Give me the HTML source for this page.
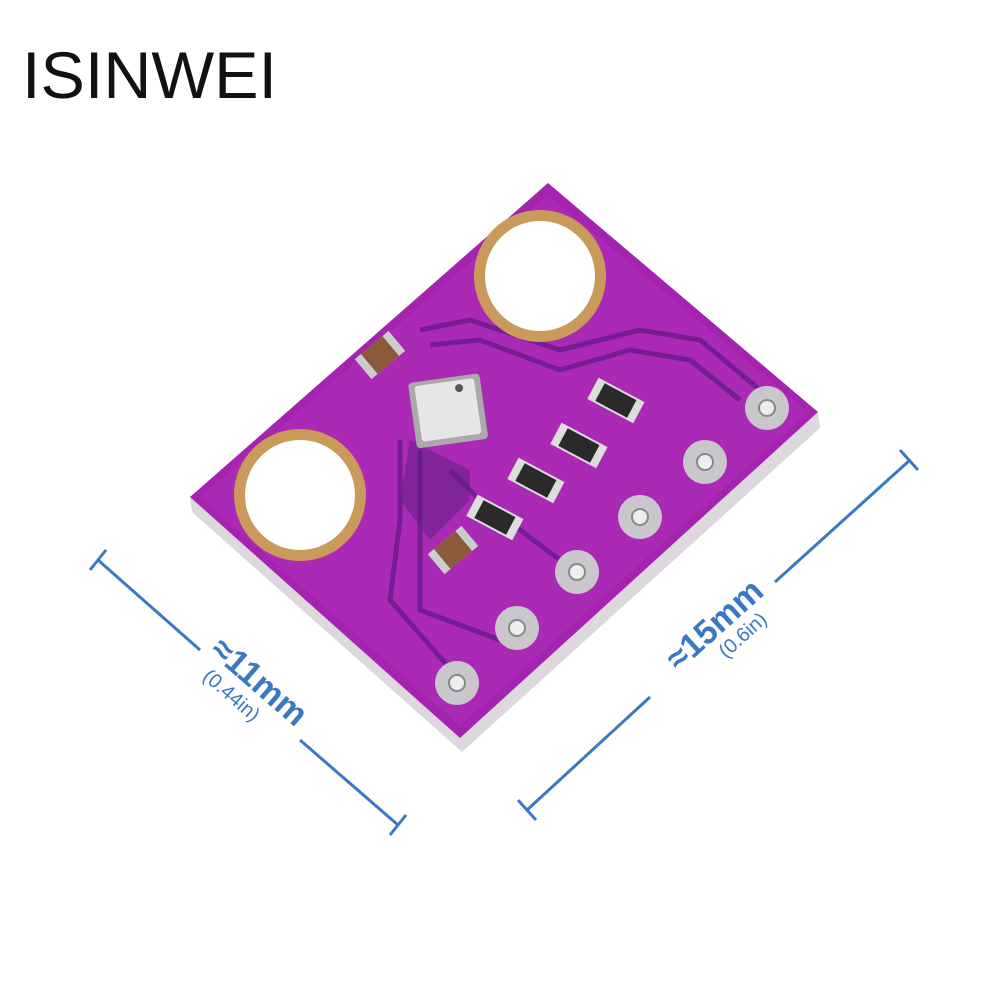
<!DOCTYPE html>
<html><head><style>
html,body{margin:0;padding:0;background:#fff;width:1000px;height:1000px;overflow:hidden}
</style></head><body>
<svg width="1000" height="1000" viewBox="0 0 1000 1000" xmlns="http://www.w3.org/2000/svg">
<rect width="1000" height="1000" fill="#fff"/>
<text x="22" y="98" font-family="Liberation Sans, sans-serif" font-size="66" fill="#111" textLength="255" lengthAdjust="spacingAndGlyphs">ISINWEI</text>
<polygon points="190,497 460,738 818,412 820,428 462,752 192,512" fill="#ddd8de"/>
<polygon points="190,497 548,183 818,412 460,738" fill="#a424b0"/>
<polygon points="200,497 548,195 808,412 460,726" fill="#b030bc" opacity="0.5"/>
<g fill="none" stroke="#6a1a8a" stroke-width="5" opacity="0.8">
<path d="M420,330 L470,320 L560,350 L640,330 L700,340 L760,390"/>
<path d="M430,345 L480,340 L560,370 L630,350 L690,360 L740,400"/>
<path d="M400,440 L400,520 L390,600 L460,680"/>
<path d="M420,450 L420,540 L420,610 L500,640"/>
<path d="M450,470 L480,500 L560,560"/>
</g>
<polygon points="410,440 470,470 470,500 430,540 400,500" fill="#5a2080" opacity="0.5"/>
<circle cx="540" cy="276" r="66" fill="#c99a5a"/>
<circle cx="540" cy="276" r="55" fill="#fff"/>
<circle cx="300" cy="495" r="66" fill="#c99a5a"/>
<circle cx="300" cy="495" r="55" fill="#fff"/>
<g>
<circle cx="767" cy="408" r="22" fill="#c9c6cc"/><circle cx="767" cy="408" r="8" fill="#eee" stroke="#888" stroke-width="2"/>
<circle cx="705" cy="462" r="22" fill="#c9c6cc"/><circle cx="705" cy="462" r="8" fill="#eee" stroke="#888" stroke-width="2"/>
<circle cx="640" cy="517" r="22" fill="#c9c6cc"/><circle cx="640" cy="517" r="8" fill="#eee" stroke="#888" stroke-width="2"/>
<circle cx="577" cy="572" r="22" fill="#c9c6cc"/><circle cx="577" cy="572" r="8" fill="#eee" stroke="#888" stroke-width="2"/>
<circle cx="517" cy="628" r="22" fill="#c9c6cc"/><circle cx="517" cy="628" r="8" fill="#eee" stroke="#888" stroke-width="2"/>
<circle cx="457" cy="683" r="22" fill="#c9c6cc"/><circle cx="457" cy="683" r="8" fill="#eee" stroke="#888" stroke-width="2"/>
</g>
<g transform="rotate(-8 447 410)">
<rect x="412" y="378" width="72" height="66" rx="4" fill="#aaa"/>
<rect x="418" y="382" width="60" height="56" rx="3" fill="#e6e6e6"/>
<circle cx="462" cy="390" r="4" fill="#555"/>
</g>
<g fill="#2a2a2a">
<g transform="rotate(28 615 400)"><rect x="590" y="388" width="52" height="24" fill="#ddd"/><rect x="598" y="390" width="36" height="20"/></g>
<g transform="rotate(28 578 445)"><rect x="553" y="433" width="52" height="24" fill="#ddd"/><rect x="561" y="435" width="36" height="20"/></g>
<g transform="rotate(28 535 480)"><rect x="510" y="468" width="52" height="24" fill="#ddd"/><rect x="518" y="470" width="36" height="20"/></g>
<g transform="rotate(28 494 517)"><rect x="469" y="505" width="52" height="24" fill="#ddd"/><rect x="477" y="507" width="36" height="20"/></g>
</g>
<g fill="#8a5a3a">
<g transform="rotate(-40 380 355)"><rect x="358" y="342" width="44" height="26" fill="#ccc"/><rect x="366" y="342" width="28" height="26"/></g>
<g transform="rotate(-40 453 550)"><rect x="431" y="537" width="44" height="26" fill="#ccc"/><rect x="439" y="537" width="28" height="26"/></g>
</g>
<g stroke="#3b78c2" stroke-width="3" fill="none">
<path d="M98,560 L200,650"/><path d="M300,740 L398,825"/>
<path d="M90,570 L106,550"/><path d="M390,835 L406,815"/>
<path d="M527,810 L650,697"/><path d="M775,582 L910,460"/>
<path d="M518,800 L536,820"/><path d="M900,450 L918,470"/>
</g>
<g font-family="Liberation Sans, sans-serif" fill="#3b78c2">
<g transform="translate(252,690) rotate(41)">
<text x="0" y="0" text-anchor="middle" font-size="34" font-weight="bold">≈11mm</text>
<text x="-12" y="24" text-anchor="middle" font-size="20">(0.44in)</text>
</g>
<g transform="translate(722,633) rotate(-42)">
<text x="0" y="0" text-anchor="middle" font-size="34" font-weight="bold">≈15mm</text>
<text x="14" y="22" text-anchor="middle" font-size="20">(0.6in)</text>
</g>
</g>
</svg>
</body></html>
